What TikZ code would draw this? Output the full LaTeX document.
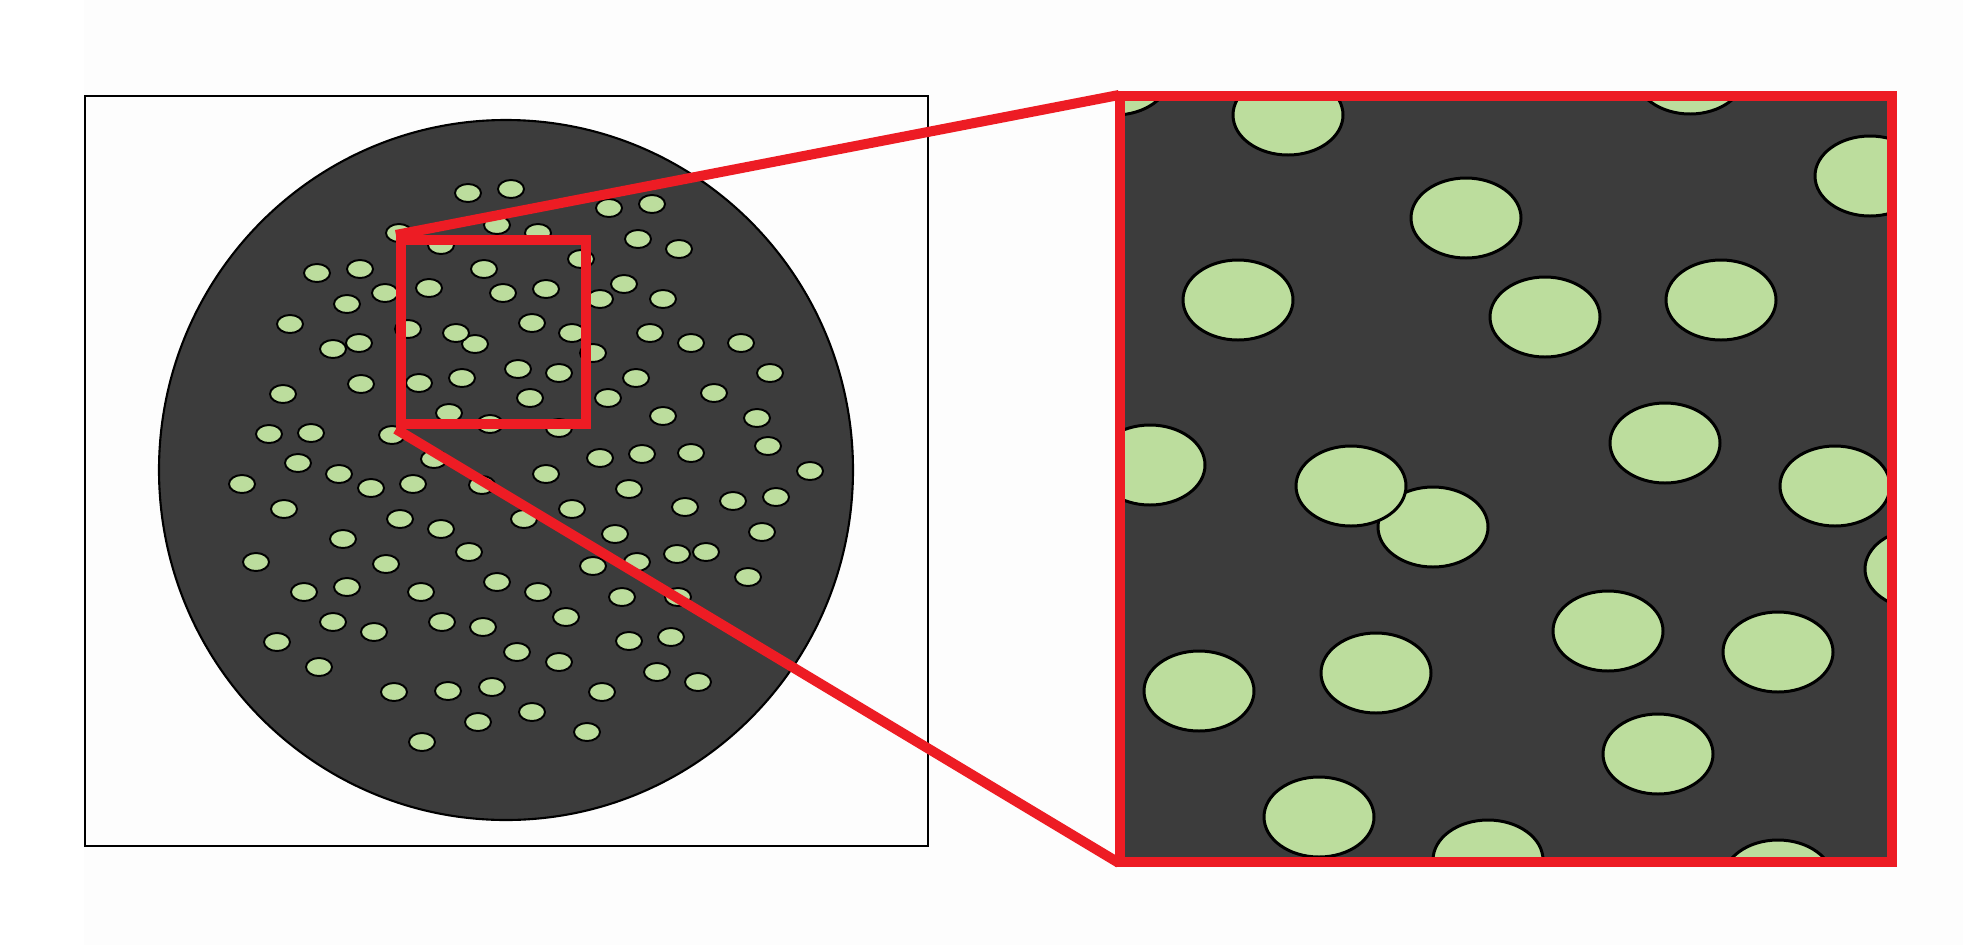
\documentclass[tikz,border=0pt]{standalone}
\definecolor{plate}{RGB}{60,60,60}
\definecolor{spot}{RGB}{188,221,157}
\definecolor{zoomred}{RGB}{237,28,36}
\definecolor{paper}{RGB}{253,253,253}
\begin{document}
\begin{tikzpicture}[x=0.01cm, y=-0.01cm,
  smallspot/.style={draw=black, fill=spot, line width=0.55pt},
  bigspot/.style={draw=black, fill=spot, line width=0.85pt},
  zoomframe/.style={draw=zoomred, line width=2.85pt, inner sep=0pt},
  zoomline/.style={draw=zoomred, line width=2.85pt}]
  \useasboundingbox (0,0) rectangle (1963,945);
  \fill[paper] (84,0) rectangle (1963,945);

  \node[draw, line width=0.6pt, inner sep=0pt, minimum width=8.43cm, minimum height=7.5cm] (sample) at (506.5,471) {};
  \draw[fill=plate, line width=0.6pt] (506,470) ellipse (347 and 350);

  \foreach \x/\y in {468/193, 511/189, 399/233, 441/245, 497/225, 538/233, 609/208, 652/204, 638/239, 679/249, 581/259,
    484/269, 317/273, 360/269, 385/293, 429/288, 347/304, 503/293, 546/289, 624/284, 600/299, 663/299,
    290/324, 408/329, 475/344, 456/333, 333/349, 359/343, 532/323, 572/333, 593/353, 650/333, 691/343, 741/343,
    361/384, 419/383, 462/378, 283/394, 449/413, 518/369, 559/373, 636/378, 770/373, 714/393, 530/398, 608/398,
    663/416, 757/418, 490/424, 559/428,
    269/434, 311/433, 392/435, 298/463, 434/459, 242/484, 339/474, 371/488, 413/484, 482/485, 284/509, 400/519,
    441/529, 469/552, 343/539, 256/562, 386/564, 304/592, 347/587, 421/592, 333/622, 374/632, 442/622, 483/627,
    277/642, 319/667, 394/692, 448/691, 492/687, 478/722, 422/742,
    600/458, 642/454, 691/453, 768/446, 810/471, 546/474, 629/489, 572/509, 685/507, 733/501, 776/497, 524/519,
    615/534, 762/532, 677/554, 706/552, 593/566, 637/562, 748/577, 497/582, 538/592, 622/597, 678/597, 566/617,
    517/652, 559/662, 629/641, 671/637, 657/672, 698/682, 602/692, 532/712, 587/732}
    \draw[smallspot] (\x,\y) ellipse (13 and 9);

  \begin{scope}
    \clip (1120,96) rectangle (1892,862);
    \fill[plate] (1120,96) rectangle (1892,862);
    \foreach \x/\y in {1115/75, 1288/115, 1690/74, 1870/176, 1466/218, 1238/300, 1545/317, 1721/300,
      1150/465, 1433/527, 1351/486, 1665/443, 1835/486, 1920/569, 1199/691, 1376/673, 1608/631,
      1778/652, 1658/754, 1319/817, 1488/860, 1778/880}
      \draw[bigspot] (\x,\y) ellipse (55 and 40);
  \end{scope}

  \node[zoomframe, minimum width=1.85cm, minimum height=1.84cm] (zoombox) at (493.5,332) {};
  \node[zoomframe, minimum width=7.72cm, minimum height=7.66cm] (panel) at (1506,479) {};
  \draw[zoomline] (zoombox.north west) -- ([shift={(1.2pt,-1.2pt)}]panel.north west);
  \draw[zoomline] (zoombox.south west) -- ([shift={(1.2pt,1.2pt)}]panel.south west);
\end{tikzpicture}
\end{document}
